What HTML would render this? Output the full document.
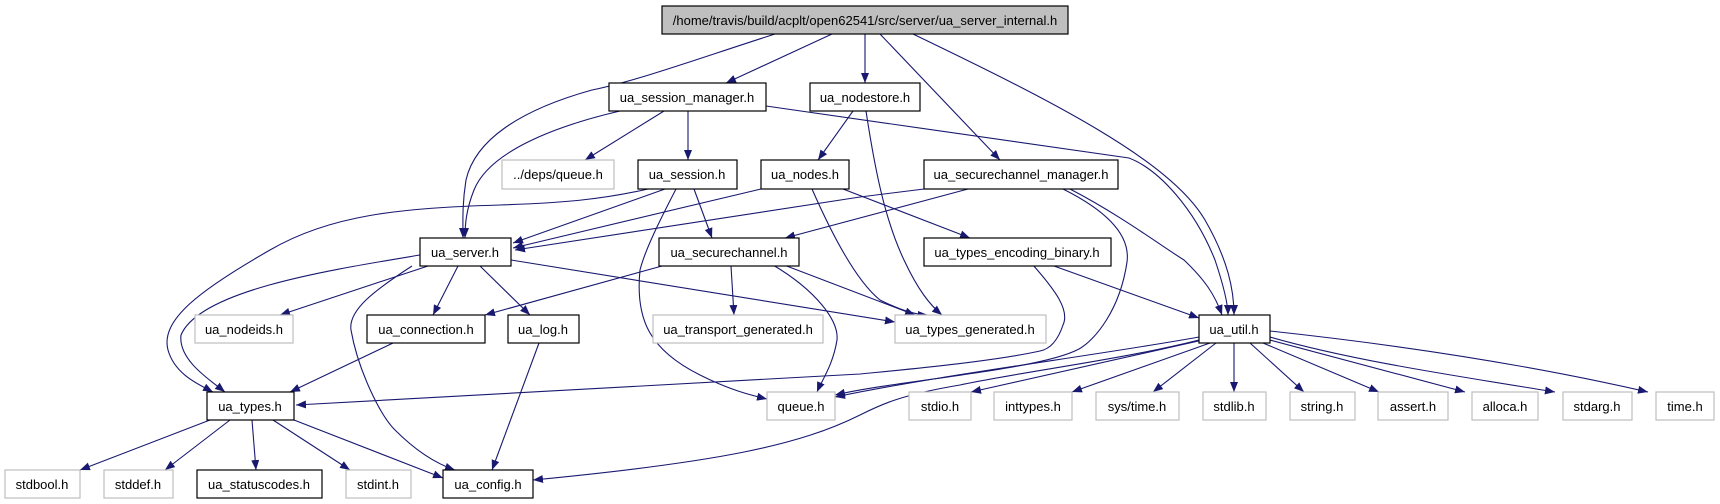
<!DOCTYPE html>
<html><head><meta charset="utf-8"><style>
html,body{margin:0;padding:0;background:#fff;}
svg{display:block;}
text{font-family:"Liberation Sans",sans-serif;font-size:13px;fill:#000;}
</style></head><body>
<svg width="1720" height="504" viewBox="0 0 1720 504" xmlns="http://www.w3.org/2000/svg">
<defs>
<marker id="a" viewBox="0 0 10 8" refX="10" refY="4" markerWidth="10" markerHeight="8" markerUnits="userSpaceOnUse" orient="auto">
<path d="M0,0 L10,4 L0,8 z" fill="#191970"/>
</marker>
</defs>
<g fill="none" stroke="#191970" stroke-width="1.1" marker-end="url(#a)">
<path d="M775,34 C700,58 640,80 592,90 C520,110 475,140 466,180 C462,205 463,222 463,238"/>
<path d="M832,34 L726,83"/>
<path d="M865,34 L865,83"/>
<path d="M880,34 L1000,160"/>
<path d="M913,34 C1050,100 1170,160 1205,220 C1228,260 1234,290 1234,315"/>
<path d="M620,111 C560,125 490,150 474,190 C466,210 465,225 465,238"/>
<path d="M664,111 L585,160"/>
<path d="M688,111 L688,160"/>
<path d="M766,106 L1129,158 C1160,170 1195,210 1215,260 C1225,290 1228,305 1228,315"/>
<path d="M853,111 L818,160"/>
<path d="M866,111 C875,170 885,220 904,260 C918,290 930,305 942,315"/>
<path d="M648,189 C600,200 560,203 500,205 C400,208 330,215 270,250 C200,290 160,320 168,350 C175,375 200,385 213,392"/>
<path d="M665,189 L513,243"/>
<path d="M676,189 C660,220 645,250 640,270 C635,320 650,350 700,375 C730,390 750,395 767,399"/>
<path d="M694,189 L712,238"/>
<path d="M761,189 L513,248"/>
<path d="M812,189 C830,230 855,280 880,300 C900,310 915,315 928,315"/>
<path d="M843,189 L970,238"/>
<path d="M924,189 L860,197 L515,250"/>
<path d="M968,189 L785,238"/>
<path d="M1063,189 C1115,215 1130,240 1127,262 C1120,310 1095,340 1079,349 C1040,370 900,380 835,395"/>
<path d="M1070,189 C1120,215 1160,245 1184,260 C1205,280 1215,295 1222,315"/>
<path d="M420,255 C330,270 200,290 181,335 C178,360 210,380 225,392"/>
<path d="M428,266 L280,315"/>
<path d="M458,266 L433,315"/>
<path d="M480,266 L530,315"/>
<path d="M412,266 C375,290 348,310 351,330 C358,370 380,415 395,430 C420,455 440,465 455,470"/>
<path d="M511,260 L895,322"/>
<path d="M662,266 L485,315"/>
<path d="M731,266 L734,315"/>
<path d="M773,265 C815,290 839,320 837,340 C833,365 822,380 817,392"/>
<path d="M784,265 L915,315"/>
<path d="M1033,265 C1055,290 1070,310 1063,325 C1058,340 1050,349 1040,351 C990,362 900,370 860,374 L296,405"/>
<path d="M1054,266 L1199,318"/>
<path d="M393,343 L290,392"/>
<path d="M539,343 L492,470"/>
<path d="M1199,337 C1100,355 940,375 835,397"/>
<path d="M1199,340 C1120,360 1020,372 960,385 C900,395 880,405 860,415 C800,445 720,462 533,480"/>
<path d="M1203,340 L971,392"/>
<path d="M1210,343 L1072,392"/>
<path d="M1216,343 L1153,392"/>
<path d="M1234,343 L1234,392"/>
<path d="M1250,343 L1304,392"/>
<path d="M1263,343 L1379,392"/>
<path d="M1270,340 L1465,392"/>
<path d="M1270,337 C1350,360 1450,375 1555,392"/>
<path d="M1270,331 C1400,345 1530,365 1648,392"/>
<path d="M210,420 L80,470"/>
<path d="M230,420 L165,470"/>
<path d="M252,420 L256,470"/>
<path d="M273,420 L350,470"/>
<path d="M294,420 L443,478"/>
</g>
<g stroke-width="1.2">
<rect x="662" y="6" width="406" height="28" fill="#bfbfbf" stroke="#000"/>
<g fill="#fff" stroke="#000">
<rect x="609" y="83" width="157" height="28"/>
<rect x="810" y="83" width="110" height="28"/>
<rect x="638" y="160" width="99" height="29"/>
<rect x="761" y="160" width="88" height="29"/>
<rect x="924" y="160" width="194" height="29"/>
<rect x="420" y="238" width="91" height="28"/>
<rect x="659" y="238" width="140" height="28"/>
<rect x="924" y="238" width="187" height="28"/>
<rect x="367" y="315" width="118" height="28"/>
<rect x="508" y="315" width="71" height="28"/>
<rect x="1199" y="315" width="71" height="28"/>
<rect x="207" y="392" width="87" height="28"/>
<rect x="197" y="470" width="125" height="28"/>
<rect x="443" y="470" width="90" height="28"/>
</g>
<g fill="#fff" stroke="#bfbfbf">
<rect x="502" y="160" width="112" height="29"/>
<rect x="195" y="315" width="98" height="28"/>
<rect x="653" y="315" width="170" height="28"/>
<rect x="895" y="315" width="151" height="28"/>
<rect x="767" y="392" width="68" height="28"/>
<rect x="909" y="392" width="62" height="28"/>
<rect x="994" y="392" width="78" height="28"/>
<rect x="1096" y="392" width="83" height="28"/>
<rect x="1203" y="392" width="63" height="28"/>
<rect x="1290" y="392" width="65" height="28"/>
<rect x="1378" y="392" width="70" height="28"/>
<rect x="1472" y="392" width="66" height="28"/>
<rect x="1563" y="392" width="69" height="28"/>
<rect x="1656" y="392" width="58" height="28"/>
<rect x="5" y="470" width="75" height="28"/>
<rect x="104" y="470" width="69" height="28"/>
<rect x="346" y="470" width="65" height="28"/>
</g>
</g>
<g text-anchor="middle">
<text x="865" y="25">/home/travis/build/acplt/open62541/src/server/ua_server_internal.h</text>
<text x="687" y="102">ua_session_manager.h</text>
<text x="865" y="102">ua_nodestore.h</text>
<text x="558" y="179">../deps/queue.h</text>
<text x="687" y="179">ua_session.h</text>
<text x="805" y="179">ua_nodes.h</text>
<text x="1021" y="179">ua_securechannel_manager.h</text>
<text x="465" y="257">ua_server.h</text>
<text x="729" y="257">ua_securechannel.h</text>
<text x="1017" y="257">ua_types_encoding_binary.h</text>
<text x="244" y="334">ua_nodeids.h</text>
<text x="426" y="334">ua_connection.h</text>
<text x="543" y="334">ua_log.h</text>
<text x="738" y="334">ua_transport_generated.h</text>
<text x="970" y="334">ua_types_generated.h</text>
<text x="1234" y="334">ua_util.h</text>
<text x="250" y="411">ua_types.h</text>
<text x="801" y="411">queue.h</text>
<text x="940" y="411">stdio.h</text>
<text x="1033" y="411">inttypes.h</text>
<text x="1137" y="411">sys/time.h</text>
<text x="1234" y="411">stdlib.h</text>
<text x="1322" y="411">string.h</text>
<text x="1413" y="411">assert.h</text>
<text x="1505" y="411">alloca.h</text>
<text x="1597" y="411">stdarg.h</text>
<text x="1685" y="411">time.h</text>
<text x="42" y="489">stdbool.h</text>
<text x="138" y="489">stddef.h</text>
<text x="259" y="489">ua_statuscodes.h</text>
<text x="378" y="489">stdint.h</text>
<text x="488" y="489">ua_config.h</text>
</g>
</svg>
</body></html>
